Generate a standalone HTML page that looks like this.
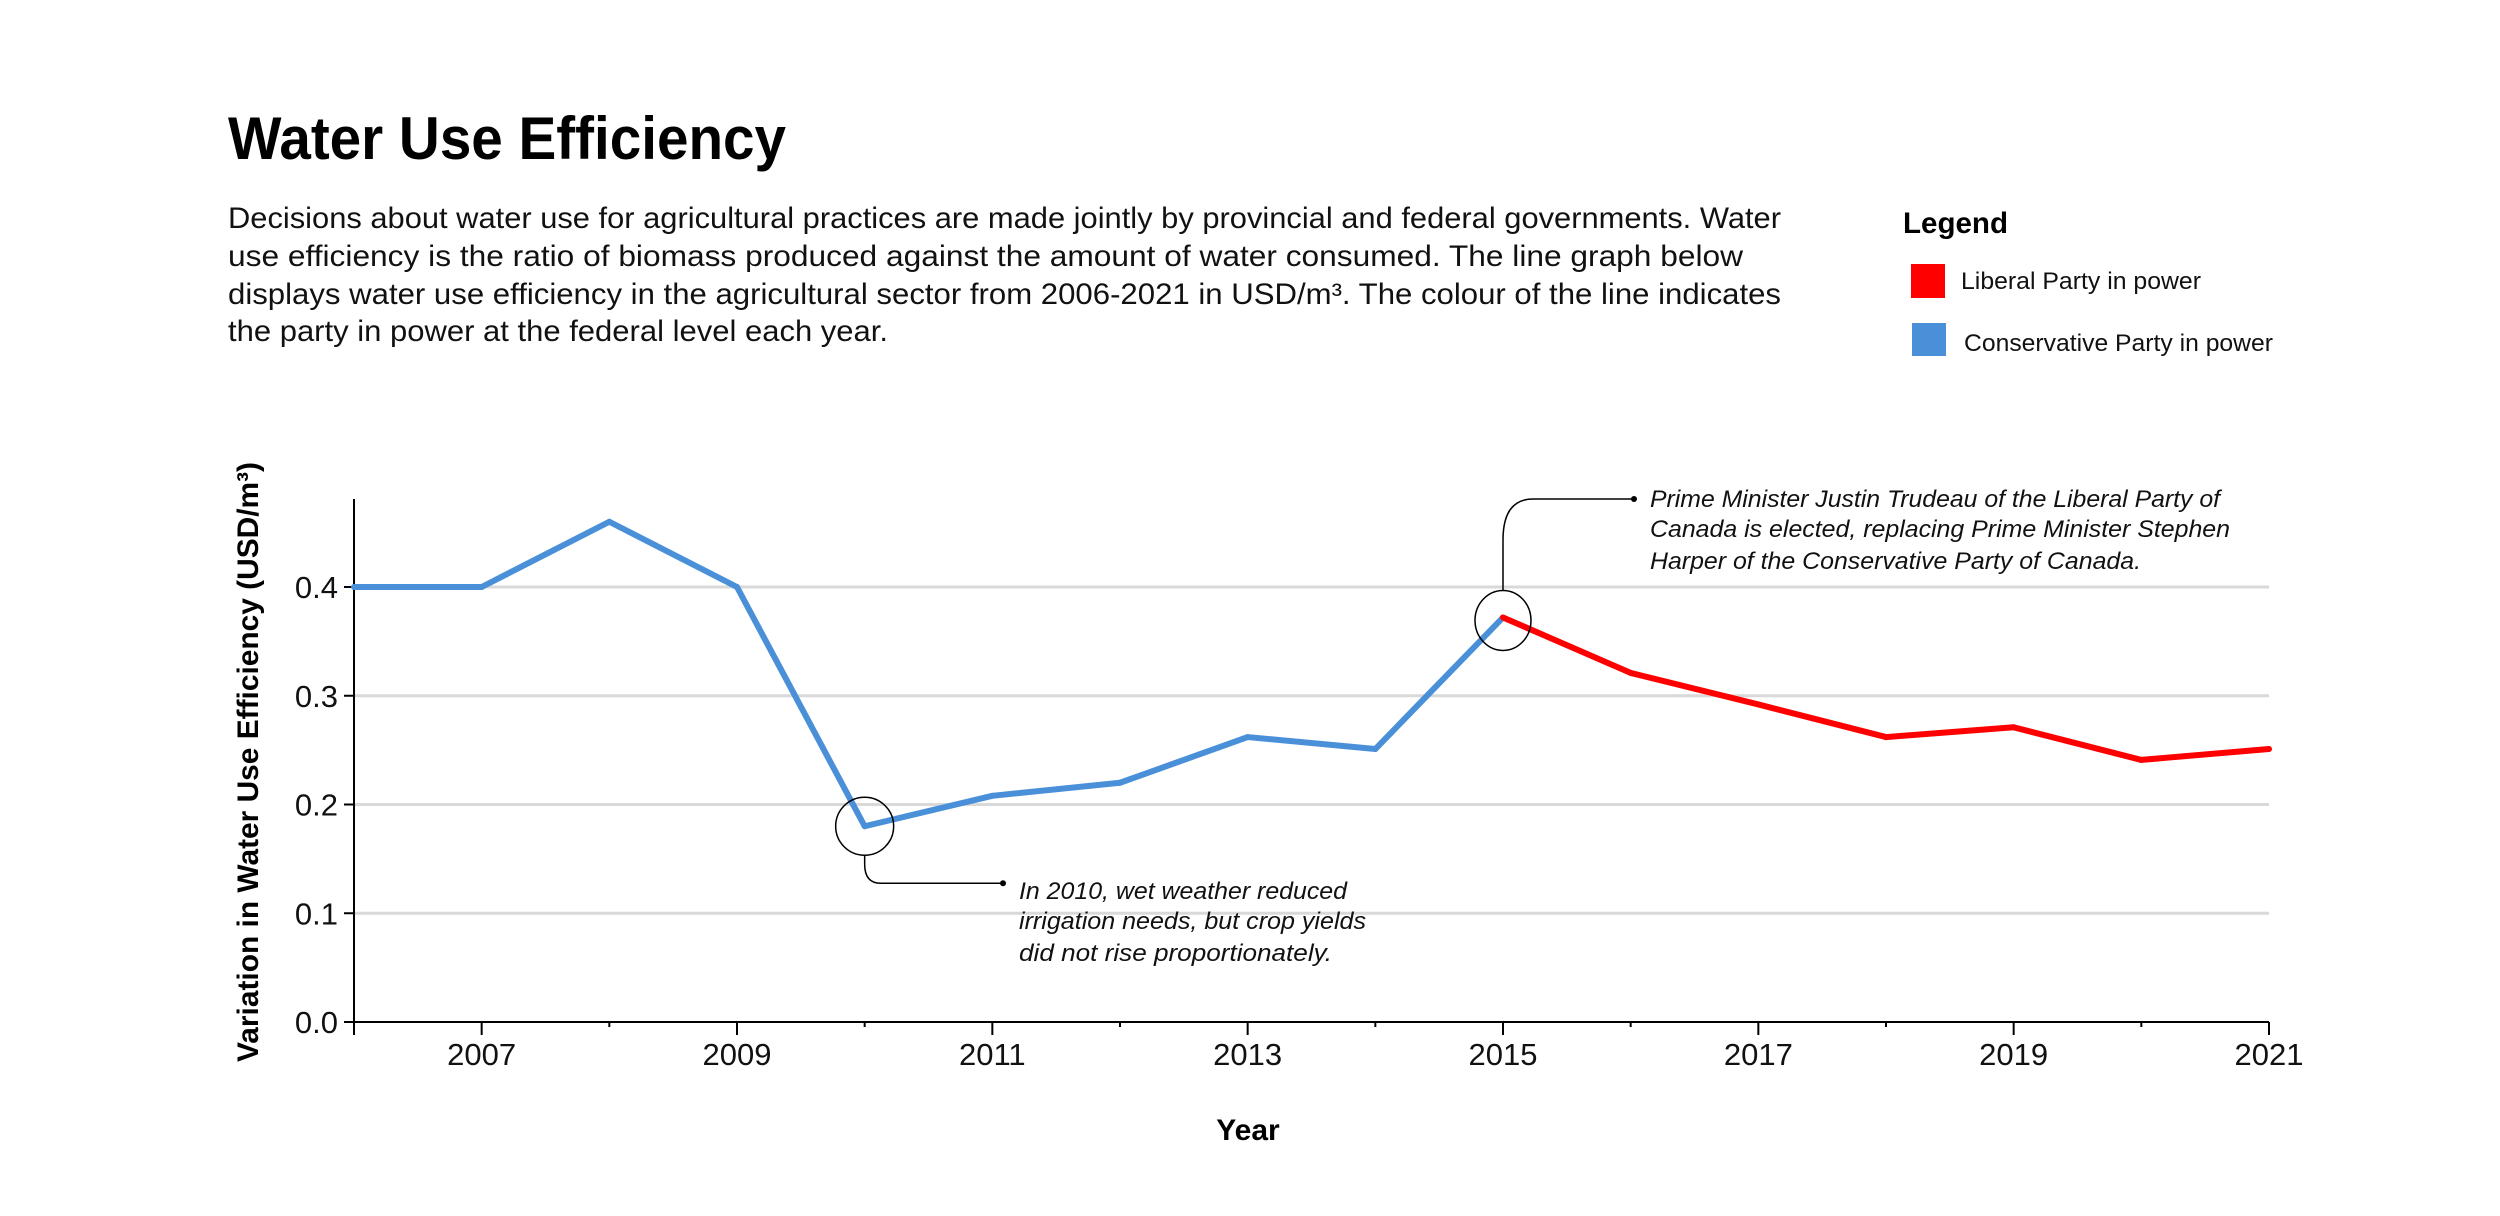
<!DOCTYPE html>
<html><head><meta charset="utf-8"><style>
html,body{margin:0;padding:0;background:#fff;}
svg{display:block;font-family:"Liberation Sans",sans-serif;}
</style></head><body>
<svg id="chart" width="2500" height="1216" viewBox="0 0 2500 1216" xmlns="http://www.w3.org/2000/svg">
<text x="228" y="159" font-size="60" font-weight="bold" fill="#000" textLength="558" lengthAdjust="spacingAndGlyphs">Water Use Efficiency</text>
<g font-size="30" fill="#111">
<text x="228" y="228" textLength="1553" lengthAdjust="spacingAndGlyphs">Decisions about water use for agricultural practices are made jointly by provincial and federal governments. Water</text>
<text x="228" y="266" textLength="1515" lengthAdjust="spacingAndGlyphs">use efficiency is the ratio of biomass produced against the amount of water consumed. The line graph below</text>
<text x="228" y="304" textLength="1553" lengthAdjust="spacingAndGlyphs">displays water use efficiency in the agricultural sector from 2006-2021 in USD/m³. The colour of the line indicates</text>
<text x="228" y="341" textLength="660" lengthAdjust="spacingAndGlyphs">the party in power at the federal level each year.</text>
</g>
<g>
<text x="1903" y="233" font-size="30" font-weight="bold" textLength="105" lengthAdjust="spacingAndGlyphs">Legend</text>
<rect x="1911" y="264" width="34" height="34" fill="#ff0000"/>
<text x="1961" y="289" font-size="24" fill="#111" textLength="240" lengthAdjust="spacingAndGlyphs">Liberal Party in power</text>
<rect x="1912" y="323" width="34" height="33" fill="#4a90d9"/>
<text x="1964" y="351" font-size="24" fill="#111" textLength="309" lengthAdjust="spacingAndGlyphs">Conservative Party in power</text>
</g>
<g id="grid"></g>
<g id="axes"></g>
<g id="lines"></g>
<text transform="translate(258,762) rotate(-90)" text-anchor="middle" font-size="30" font-weight="bold" textLength="600" lengthAdjust="spacingAndGlyphs">Variation in Water Use Efficiency (USD/m³)</text>
<text x="1248" y="1140" text-anchor="middle" font-size="30" font-weight="bold">Year</text>
<g id="annot"></g>
</svg>
<script>
const years=[2006,2007,2008,2009,2010,2011,2012,2013,2014,2015,2016,2017,2018,2019,2020,2021];
const values=[0.40,0.40,0.46,0.40,0.18,0.208,0.22,0.262,0.251,0.372,0.321,0.292,0.262,0.271,0.241,0.251];
const party=["C","C","C","C","C","C","C","C","C","C","L","L","L","L","L","L"];
const yTicks=[0.0,0.1,0.2,0.3,0.4];
const xTickLabels=[2007,2009,2011,2013,2015,2017,2019,2021];
const NS="http://www.w3.org/2000/svg";
const X0=354,X1=2269,Y0=1022,PER=1087.5;
const xs=y=>X0+(y-2006)*(X1-X0)/15;
const ys=v=>Y0-v*PER;
function mk(tag,attrs,parent){const e=document.createElementNS(NS,tag);for(const k in attrs)e.setAttribute(k,attrs[k]);parent.appendChild(e);return e;}
const grid=document.getElementById('grid'),axes=document.getElementById('axes'),lines=document.getElementById('lines'),annot=document.getElementById('annot');
yTicks.forEach(t=>{
 if(t>0){const g=mk('line',{x1:X0,x2:X1,y1:ys(t),y2:ys(t),stroke:'#d9d9d9','stroke-width':3},grid);
 
 }
 const tk=mk('line',{x1:X0-10,x2:X0,y1:ys(t),y2:ys(t),stroke:'#000','stroke-width':2},axes);
 
 
 const lb=mk('text',{x:X0-16,y:ys(t)+11,'text-anchor':'end','font-size':31,fill:'#111'},axes);
 lb.textContent=t.toFixed(1);
 
 
});
const ya=mk('line',{x1:X0,x2:X0,y1:499,y2:Y0,stroke:'#000','stroke-width':2},axes);


const xa=mk('line',{x1:X0-10,x2:X1,y1:Y0,y2:Y0,stroke:'#000','stroke-width':2},axes);


years.forEach(y=>{
 const big=xTickLabels.includes(y)||y===2006;
 const tk=mk('line',{x1:xs(y),x2:xs(y),y1:Y0,y2:Y0+(big?13:5),stroke:'#000','stroke-width':2},axes);
 
 
});
xTickLabels.forEach(y=>{
 const lb=mk('text',{x:xs(y),y:1065,'text-anchor':'middle','font-size':31,fill:'#111'},axes);
 lb.textContent=y;
 
 
});
for(let i=0;i<years.length-1;i++){
 const col=party[i+1]==='L'?'#ff0000':'#4a90d9';
 const s=mk('line',{x1:xs(years[i]),y1:ys(values[i]),x2:xs(years[i+1]),y2:ys(values[i+1]),stroke:col,'stroke-width':6,'stroke-linecap':'round'},lines);
 
 
}
// annotation 2010
const ax=xs(2010),ay=ys(values[4]);
const c1=mk('circle',{cx:ax,cy:ay,r:29,fill:'none',stroke:'#000','stroke-width':1.5},annot);


const p1=mk('path',{d:`M${ax} ${ay+29} V${ay+38} Q${ax} ${ay+57} ${ax+16} ${ay+57} H1003`,fill:'none',stroke:'#000','stroke-width':1.5},annot);


mk('circle',{cx:1003,cy:ay+57,r:3,fill:'#000'},annot);
const t1=mk('text',{x:1019,y:899,'font-size':24,'font-style':'italic',fill:'#111'},annot);


[['In 2010, wet weather reduced',899,328],['irrigation needs, but crop yields',929,347],['did not rise proportionately.',961,313]].forEach(([s,y,w])=>{const ts=mk('tspan',{x:1019,y:y,textLength:w,lengthAdjust:'spacingAndGlyphs'},t1);ts.textContent=s;});
// annotation 2015
const bx=xs(2015),by=ys(values[9]);
const c2=mk('ellipse',{cx:bx,cy:by+3,rx:28,ry:30,fill:'none',stroke:'#000','stroke-width':1.5},annot);


const p2=mk('path',{d:`M${bx} ${by-27} V540 Q${bx} 499 ${bx+30} 499 H1634`,fill:'none',stroke:'#000','stroke-width':1.5},annot);


mk('circle',{cx:1634,cy:499,r:3,fill:'#000'},annot);
const t2=mk('text',{x:1650,y:507,'font-size':24,'font-style':'italic',fill:'#111'},annot);


[['Prime Minister Justin Trudeau of the Liberal Party of',507,570],['Canada is elected, replacing Prime Minister Stephen',537,580],['Harper of the Conservative Party of Canada.',569,491]].forEach(([s,y,w])=>{const ts=mk('tspan',{x:1650,y:y,textLength:w,lengthAdjust:'spacingAndGlyphs'},t2);ts.textContent=s;});
</script>
</body></html>
